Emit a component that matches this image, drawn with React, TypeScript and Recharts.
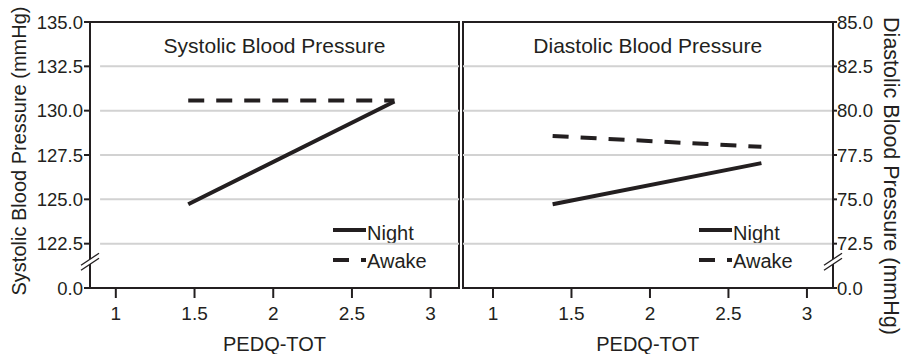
import React from 'react';
import {
  LineChart, Line, XAxis, YAxis, ReferenceLine, ReferenceArea, ReferenceDot, Customized,
} from 'recharts';

// ---------- data ----------
const xTicks = [1, 1.5, 2, 2.5, 3];

const sysX = [1.46, 2.77];
const sysNight = [124.72, 130.52];
const sysAwake = [130.58, 130.58];
const sysTicks = [120, 122.5, 125, 127.5, 130, 132.5, 135];
const sysGrid = [122.5, 125, 127.5, 130, 132.5];

const diaX = [1.38, 2.71];
const diaNight = [74.72, 77.04];
const diaAwake = [78.57, 77.96];
const diaTicks = [70, 72.5, 75, 77.5, 80, 82.5, 85];
const diaGrid = [72.5, 75, 77.5, 80, 82.5];

const seriesNames = ['Night', 'Awake'];
const panelTitles = ['Systolic Blood Pressure', 'Diastolic Blood Pressure'];
const yLabels = ['Systolic Blood Pressure (mmHg)', 'Diastolic Blood Pressure (mmHg)'];
const xLabel = 'PEDQ-TOT';

const sysData = sysX.map((x, i) => ({ x, night: sysNight[i], awake: sysAwake[i] }));
const diaData = diaX.map((x, i) => ({ x, night: diaNight[i], awake: diaAwake[i] }));

// ---------- style ----------
const INK = '#231f20';
const GRID = '#d2d2d2';
const FONT = '"Liberation Sans", Arial, Helvetica, sans-serif';
const H = 354;
const TOP = 22;
const XAX_H = 66;

const sysDomainX: [number, number] = [0.836, 3.18];
const diaDomainX: [number, number] = [0.809, 3.166];

const fmtY = (base: number) => (v: number) => (v === base ? '0.0' : v.toFixed(1));

const BreakShape = (props: any) => {
  const { cx, cy } = props;
  if (cx == null || cy == null) return null;
  return (
    <g>
      <polygon
        points={`${cx - 9},${cy + 8.5} ${cx + 9},${cy - 3.5} ${cx + 9},${cy - 8.5} ${cx - 9},${cy + 3.5}`}
        fill="#fff"
      />
      <line x1={cx - 9} y1={cy + 8.5} x2={cx + 9} y2={cy - 3.5} stroke={INK} strokeWidth={1.3} />
      <line x1={cx - 9} y1={cy + 3.5} x2={cx + 9} y2={cy - 8.5} stroke={INK} strokeWidth={1.3} />
    </g>
  );
};

const Extras = ({
  title, titleX, legendX, yLabel, yLabelX, yLabelY, yAngle, yFont, xLabelX,
}: any) => (
  <g fontFamily={FONT} fill={INK}>
    <text x={titleX} y={53} textAnchor="middle" fontSize={21} fill={INK}>{title}</text>
    <line x1={legendX} y1={230} x2={legendX + 33} y2={230} stroke={INK} strokeWidth={4} />
    <text x={legendX + 34} y={239.5} fontSize={20} fill={INK}>{seriesNames[0]}</text>
    <line x1={legendX} y1={260} x2={legendX + 33} y2={260} stroke={INK} strokeWidth={4} strokeDasharray="16 12" />
    <text x={legendX + 34} y={267.5} fontSize={20} fill={INK}>{seriesNames[1]}</text>
    <text
      x={yLabelX}
      y={yLabelY}
      textAnchor="middle"
      dominantBaseline="central"
      fontSize={yFont}
      fill={INK}
      transform={`rotate(${yAngle}, ${yLabelX}, ${yLabelY})`}
    >
      {yLabel}
    </text>
    <text x={xLabelX} y={351} textAnchor="middle" fontSize={20} fill={INK}>{xLabel}</text>
  </g>
);

const axisLineStyle = { stroke: INK, strokeWidth: 2 };

export default function App() {
  return (
    <div style={{ position: 'absolute', left: 0, top: 0, width: 902, height: H, background: '#fff', fontFamily: FONT }}>
      {/* Left panel */}
      <div style={{ position: 'absolute', left: 0, top: 0 }}>
        <LineChart width={460} height={H} data={sysData} margin={{ top: TOP, right: 1, bottom: 0, left: 0 }}>
          {sysGrid.map((v) => (
            <ReferenceLine
              key={v}
              segment={[{ x: 0.9, y: v }, { x: sysDomainX[1], y: v }]}
              stroke={GRID}
              strokeWidth={2}
              ifOverflow="visible"
            />
          ))}
          <ReferenceArea
            x1={sysDomainX[0]} x2={sysDomainX[1]} y1={120} y2={135}
            fill="none" fillOpacity={0} stroke={INK} strokeWidth={2} ifOverflow="visible"
          />
          <XAxis
            dataKey="x" type="number" domain={sysDomainX} ticks={xTicks} allowDataOverflow
            height={XAX_H} tickSize={10} tickMargin={9}
            axisLine={axisLineStyle} tickLine={axisLineStyle}
            tick={{ fill: INK, fontSize: 19, fontFamily: FONT }}
          />
          <YAxis
            type="number" domain={[120, 135]} ticks={sysTicks} allowDataOverflow
            width={90} tickSize={6} tickMargin={1} tickFormatter={fmtY(120)}
            axisLine={axisLineStyle} tickLine={axisLineStyle}
            tick={{ fill: INK, fontSize: 18.5, fontFamily: FONT }}
          />
          <Line type="linear" dataKey="night" stroke={INK} strokeWidth={4} dot={false} isAnimationActive={false} />
          <Line type="linear" dataKey="awake" stroke={INK} strokeWidth={4} strokeDasharray="16 12" dot={false} isAnimationActive={false} />
          <ReferenceDot x={sysDomainX[0]} y={121.48} ifOverflow="visible" shape={BreakShape} />
          <Customized
            component={() => (
              <Extras
                title={panelTitles[0]} titleX={274.5} legendX={333}
                yLabel={yLabels[0]} yLabelX={19} yLabelY={151} yAngle={-90} yFont={20}
                xLabelX={274.5}
              />
            )}
          />
        </LineChart>
      </div>
      {/* Right panel */}
      <div style={{ position: 'absolute', left: 462, top: 0 }}>
        <LineChart width={440} height={H} data={diaData} margin={{ top: TOP, right: 0, bottom: 0, left: 1 }}>
          {diaGrid.map((v) => (
            <ReferenceLine key={v} y={v} stroke={GRID} strokeWidth={2} />
          ))}
          <ReferenceArea
            x1={diaDomainX[0]} x2={diaDomainX[1]} y1={70} y2={85}
            fill="none" fillOpacity={0} stroke={INK} strokeWidth={2} ifOverflow="visible"
          />
          <XAxis
            dataKey="x" type="number" domain={diaDomainX} ticks={xTicks} allowDataOverflow
            height={XAX_H} tickSize={10} tickMargin={9}
            axisLine={axisLineStyle} tickLine={axisLineStyle}
            tick={{ fill: INK, fontSize: 19, fontFamily: FONT }}
          />
          <YAxis
            orientation="right" type="number" domain={[70, 85]} ticks={diaTicks} allowDataOverflow
            width={69} tickSize={4} tickMargin={0} tickFormatter={fmtY(70)}
            axisLine={axisLineStyle} tickLine={axisLineStyle}
            tick={{ fill: INK, fontSize: 18.5, fontFamily: FONT }}
          />
          <Line type="linear" dataKey="night" stroke={INK} strokeWidth={4} dot={false} isAnimationActive={false} />
          <Line type="linear" dataKey="awake" stroke={INK} strokeWidth={4} strokeDasharray="16 12" dot={false} isAnimationActive={false} />
          <ReferenceDot x={diaDomainX[1]} y={71.48} ifOverflow="visible" shape={BreakShape} />
          <Customized
            component={() => (
              <Extras
                title={panelTitles[1]} titleX={185.7} legendX={237}
                yLabel={yLabels[1]} yLabelX={429} yLabelY={176} yAngle={90} yFont={21.5}
                xLabelX={185.7}
              />
            )}
          />
        </LineChart>
      </div>
    </div>
  );
}
